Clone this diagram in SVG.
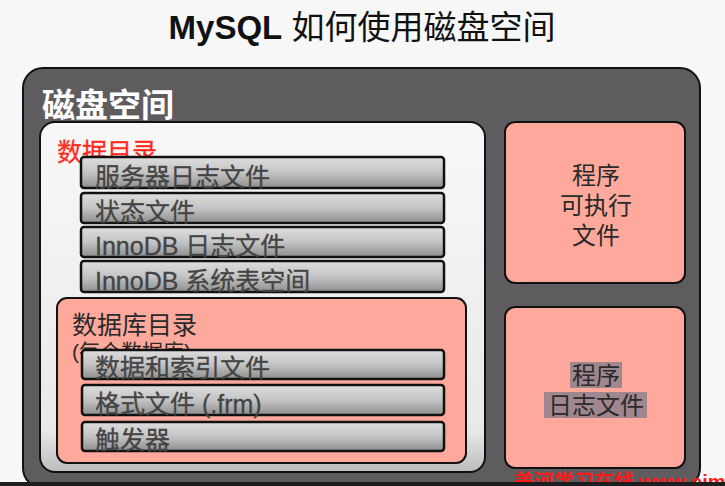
<svg xmlns="http://www.w3.org/2000/svg" width="725" height="486" viewBox="0 0 725 486">
<defs>
<linearGradient id="gBar" x1="0" y1="0" x2="0" y2="1">
<stop offset="0" stop-color="#dedede"/>
<stop offset="0.5" stop-color="#c4c4c4"/>
<stop offset="1" stop-color="#8e8e8e"/>
</linearGradient>
<linearGradient id="gWhite" x1="0" y1="0" x2="0" y2="1">
<stop offset="0" stop-color="#f8f8f8"/>
<stop offset="0.88" stop-color="#e9e9e9"/>
<stop offset="1" stop-color="#bcbcbc"/>
</linearGradient>
<style>
text{font-family:"Liberation Sans","Noto Sans CJK SC",sans-serif;}
.bar{fill:url(#gBar);stroke:#111;stroke-width:2.5;}
.bt{font-size:25px;fill:#444;stroke:#444;stroke-width:0.3;}
.pink{fill:#ffa99c;stroke:#111;stroke-width:2;}
.pt{font-size:24px;fill:#2a2a2a;text-anchor:middle;}
</style>
</defs>
<rect width="725" height="486" fill="#f7f7f7"/>
<g id="title">
<text x="362" y="39" text-anchor="middle" font-size="33" fill="#111"><tspan font-weight="bold">MySQL</tspan> 如何使用磁盘空间</text>
</g>
<g id="disk">
<rect x="23" y="68" width="677" height="420" rx="20" fill="#5e5c5f" stroke="#111" stroke-width="2"/>
<text x="42" y="117" font-size="33" font-weight="bold" fill="#fff">磁盘空间</text>
</g>
<g id="datadir">
<rect x="40" y="122" width="445" height="350" rx="15" fill="url(#gWhite)" stroke="#111" stroke-width="2"/>
<text x="57" y="161" font-size="25" fill="#ff2a1a" stroke="#ff2a1a" stroke-width="0.3">数据目录</text>
</g>
<g id="server-log"><rect class="bar" x="81" y="157" width="363" height="31" rx="3"/><text class="bt" x="95" y="186">服务器日志文件</text></g>
<g id="status"><rect class="bar" x="81" y="193" width="363" height="30" rx="3"/><text class="bt" x="95" y="221">状态文件</text></g>
<g id="innodb-log"><rect class="bar" x="81" y="227" width="363" height="30" rx="3"/><text class="bt" x="95" y="255">InnoDB 日志文件</text></g>
<g id="innodb-sys"><rect class="bar" x="81" y="261" width="363" height="31" rx="3"/><text class="bt" x="95" y="290">InnoDB 系统表空间</text></g>
<g id="dbdir">
<rect class="pink" x="57" y="298" width="409" height="165" rx="10"/>
<text x="72" y="334" font-size="25" fill="#2a2a2a">数据库目录</text>
<text x="72" y="359" font-size="21" fill="#2a2a2a">(每个数据库)</text>
</g>
<g id="data-index"><rect class="bar" x="82" y="350" width="362" height="29" rx="3"/><text class="bt" x="95" y="377">数据和索引文件</text></g>
<g id="frm"><rect class="bar" x="82" y="385" width="362" height="30" rx="3"/><text class="bt" x="95" y="413">格式文件 (.frm)</text></g>
<g id="trigger"><rect class="bar" x="82" y="422" width="362" height="29" rx="3"/><text class="bt" x="95" y="449">触发器</text></g>
<g id="exec">
<rect class="pink" x="505" y="122" width="180" height="161" rx="10"/>
<text class="pt" x="596" y="184">程序</text>
<text class="pt" x="596" y="214">可执行</text>
<text class="pt" x="596" y="244">文件</text>
</g>
<g id="proglog">
<rect class="pink" x="505" y="307" width="180" height="161" rx="10"/>
<rect x="570" y="362" width="52" height="26" fill="#a0868f"/>
<rect x="544" y="392" width="103" height="26" fill="#a0868f"/>
<text class="pt" x="596" y="384">程序</text>
<text class="pt" x="596" y="414">日志文件</text>
</g>
<text x="514" y="489" font-size="20" font-weight="bold" fill="#ff1a1a">美河学习在线 www.eimhe.com</text>
<rect x="0" y="482" width="725" height="4" fill="#1e1e1e"/>
</svg>
